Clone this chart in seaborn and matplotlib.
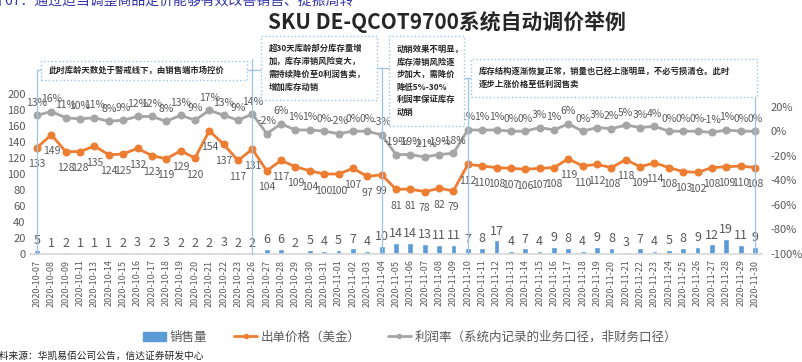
import numpy as np
import pandas as pd
import matplotlib
matplotlib.use('Agg')
import matplotlib.pyplot as plt
from matplotlib.patches import Rectangle
from matplotlib.lines import Line2D
import seaborn as sns

# data
dates = ['2020-10-07', '2020-10-08', '2020-10-09', '2020-10-11', '2020-10-13', '2020-10-14',
         '2020-10-15', '2020-10-16', '2020-10-17', '2020-10-18', '2020-10-19', '2020-10-20',
         '2020-10-21', '2020-10-22', '2020-10-23', '2020-10-26', '2020-10-27', '2020-10-28',
         '2020-10-29', '2020-10-30', '2020-10-31', '2020-11-01', '2020-11-02', '2020-11-03',
         '2020-11-04', '2020-11-05', '2020-11-06', '2020-11-07', '2020-11-08', '2020-11-09',
         '2020-11-10', '2020-11-11', '2020-11-12', '2020-11-13', '2020-11-14', '2020-11-15',
         '2020-11-16', '2020-11-17', '2020-11-18', '2020-11-19', '2020-11-20', '2020-11-21',
         '2020-11-22', '2020-11-23', '2020-11-24', '2020-11-25', '2020-11-26', '2020-11-27',
         '2020-11-28', '2020-11-29', '2020-11-30']
sales = [5, 1, 2, 1, 1, 1, 2, 3, 2, 3, 2, 2, 2, 3, 2, 2,
         6, 6, 2, 5, 4, 5, 7, 4,
         10, 14, 14, 13, 11, 11,
         7, 8, 17, 4, 7,
         4, 9, 8, 4, 9, 8, 3, 7, 4, 5, 8, 9, 12, 19, 11, 9]
price = [133, 149, 128, 128, 135, 124, 125, 132, 123, 119, 129, 120, 154, 137, 117, 131,
         104, 117, 109, 104, 100, 100, 107, 97,
         99, 81, 81, 78, 82, 79,
         112, 110, 108, 107, 106,
         107, 108, 119, 110, 112, 108, 118, 109, 114, 108, 103, 102, 108, 109, 110, 108]
margin = [13, 16, 11, 10, 11, 8, 9, 12, 12, 8, 13, 9, 17, 13, 9, 14,
          -2, 6, 1, 1, 0, -2, 0, 0,
          -3, -19, -19, -21, -19, -18,
          1, 1, 1, 0, 0,
          3, 1, 6, 0, 3, 2, 5, 3, 4, 0, 0, 0, -1, 1, 0, 0]
left_ticks = [0, 20, 40, 60, 80, 100, 120, 140, 160, 180, 200]
right_ticks = [-100, -80, -60, -40, -20, 0, 20]
phase_edges = [0, 15, 24, 30, 50]

title = 'SKU DE-QCOT9700系统自动调价举例'
caption = '图 67：通过适当调整商品定价能够有效改善销售、提振周转'
source = '资料来源：华凯易佰公司公告，信达证券研发中心'
notes = ['此时库龄天数处于警戒线下，由销售端市场控价',
         '超30天库龄部分库存量增\n加，库存滞销风险变大，\n需持续降价至0利润售卖，\n增加库存动销',
         '动销效果不明显，\n库存滞销风险逐\n步加大，需降价\n降低5%-30%\n利润率保证库存\n动销',
         '库存结构逐渐恢复正常，销量也已经上涨明显，不必亏损清仓。此时\n逐步上涨价格至低利润售卖']
legend_labels = ['销售量', '出单价格（美金）', '利润率（系统内记录的业务口径，非财务口径）']

BLUE = '#5B9BD5'
ORANGE = '#ED7D31'
GRAY = '#A5A5A5'
TXT = '#595959'
LINEBLUE = '#9DC3E6'

sns.set_theme(style='white')
plt.rcParams['font.family'] = ['Noto Sans CJK SC', 'DejaVu Sans']
plt.rcParams['axes.unicode_minus'] = False

W, H = 803, 362
fig = plt.figure(figsize=(W / 100, H / 100), dpi=100)


def px(x, y):
    # pixel position measured from top-left -> figure fraction
    return x / W, 1 - y / H


ax = fig.add_axes([29.8 / W, 108 / H, 732.4 / W, 160 / H])
df = pd.DataFrame({'date': dates, 'sales': sales, 'price': price, 'margin': margin})
xs = np.arange(len(dates))

sns.barplot(data=df, x='date', y='sales', color=BLUE, width=0.4, ax=ax, saturation=1)
ax.bar_label(ax.containers[0], padding=2, fontsize=9, color=TXT)
sns.lineplot(x=xs, y=df['price'], ax=ax, color=ORANGE, linewidth=2, marker='o',
             markersize=5, markeredgecolor=ORANGE)
for i, v in enumerate(price):
    ax.annotate(str(v), (i, v), xytext=(0, -12), textcoords='offset points',
                ha='center', va='center', fontsize=7.5, color=TXT)

ax.set_xlim(-0.5, len(dates) - 0.5)
ax.set_ylim(0, 200)
ax.set_yticks(left_ticks)
ax.set_xlabel('')
ax.set_ylabel('')
ax.tick_params(axis='y', length=0, pad=3, labelsize=8, labelcolor=TXT)
ax.tick_params(axis='x', length=0, pad=4, labelsize=6.5, labelcolor=TXT, rotation=90)
for s in ['top', 'left', 'right']:
    ax.spines[s].set_visible(False)
ax.spines['bottom'].set_color('#D9D9D9')

ax2 = ax.twinx()
sns.lineplot(x=xs, y=df['margin'], ax=ax2, color=GRAY, linewidth=2, marker='o',
             markersize=5, markeredgecolor=GRAY)
for i, v in enumerate(margin):
    ax2.annotate(f'{v}%', (i, v), xytext=(0, 9), textcoords='offset points',
                 ha='center', va='center', fontsize=7.5, color=TXT)
ax2.set_ylim(-100, 30.3)
ax2.set_yticks(right_ticks)
ax2.set_yticklabels([f'{t}%' for t in right_ticks])
ax2.set_ylabel('')
ax2.tick_params(axis='y', length=0, pad=6, labelsize=8, labelcolor=TXT)
for s in ax2.spines.values():
    s.set_visible(False)
ax2.set_xlim(-0.5, len(dates) - 0.5)

# annotation boxes (pixel rectangles: x0, y0, x1, y1 from top)
boxes = [(41, 61, 247, 80), (261, 36, 377, 100), (389, 36, 464, 126), (471, 59, 757, 97)]
spacing = [1.3, 1.55, 1.5, 1.6]
for (x0, y0, x1, y1), txt, ls in zip(boxes, notes, spacing):
    fx, fy = px(x0, y1)
    fig.patches.append(Rectangle((fx, fy), (x1 - x0) / W, (y1 - y0) / H,
                                 transform=fig.transFigure, fill=True, facecolor='white',
                                 edgecolor=LINEBLUE, linestyle=':', linewidth=1, zorder=5))
    tx, ty = px(x0 + 8, (y0 + y1) / 2)
    fig.text(tx, ty, txt, ha='left', va='center', fontsize=6, fontweight='bold',
             color='#262626', linespacing=ls, zorder=6)

# bracket lines at phase boundaries
tops = [70, 59, 68, 78, 64]
links = [[(37, 70, 41)], [(247, 70, 261)], [(377, 68, 389)], [(464, 78, 471)], [(755, 78, 757)]]
for idx, top, lk in zip(phase_edges, tops, links):
    xd = ax.transData.transform((idx, 0))[0] / W
    fig.add_artist(Line2D([xd, xd], [px(0, 254)[1], px(0, top)[1]], color=LINEBLUE,
                          linewidth=0.9, transform=fig.transFigure, zorder=1))
    for xa, yy, xb in lk:
        fig.add_artist(Line2D([px(xa, 0)[0], px(xb, 0)[0]], [px(0, yy)[1]] * 2,
                              color=LINEBLUE, linewidth=0.9, transform=fig.transFigure))

fig.text(*px(447, 22), title, ha='center', va='center', fontsize=15, fontweight='bold',
         color='#262626')
fig.text(*px(-12, 1), caption, ha='left', va='center', fontsize=10, color='#3333AA')
fig.text(*px(-10, 356), source, ha='left', va='center', fontsize=7, color='#222222',
         style='italic')

handles = [Rectangle((0, 0), 1, 1, color=BLUE),
           Line2D([], [], color=ORANGE, linewidth=2, marker='o', markersize=3),
           Line2D([], [], color=GRAY, linewidth=2, marker='o', markersize=3)]
fig.legend(handles, legend_labels, loc='center', bbox_to_anchor=px(410, 337), ncol=3,
           frameon=False, fontsize=9, handlelength=1.8, handletextpad=0.3,
           columnspacing=2.2, labelcolor=TXT)

fig.savefig('out.png', dpi=100)
